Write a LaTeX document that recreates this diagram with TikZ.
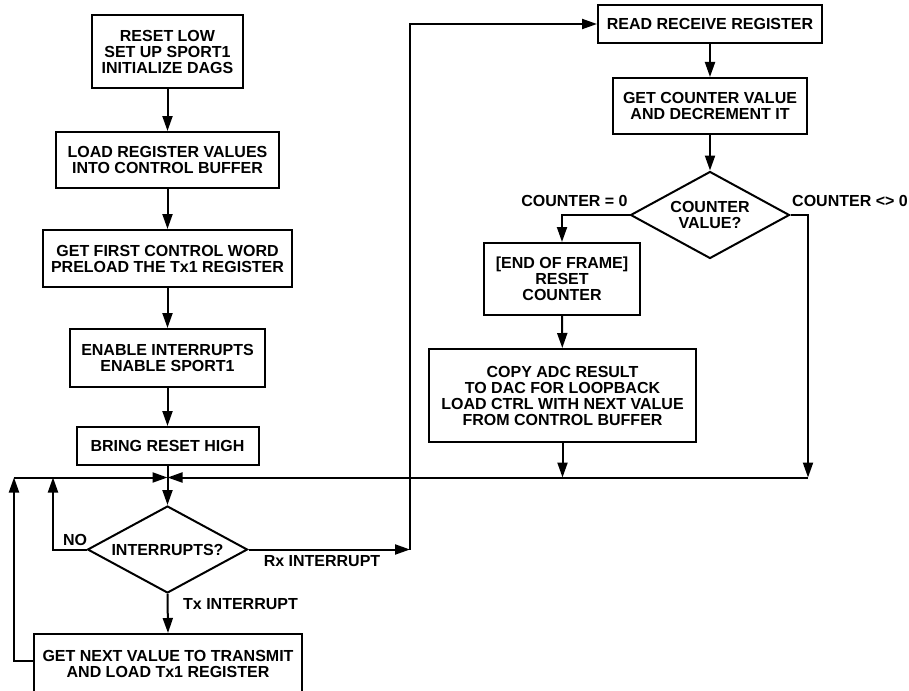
\documentclass[tikz,border=0pt]{standalone}
\usepackage{fontspec}
\setmainfont{Liberation Sans}
\usetikzlibrary{arrows.meta,shapes.geometric}
\tikzset{
  x=1pt,y=-1pt,
  every node/.style={font=\fontsize{16}{16}\selectfont\bfseries},
  arr/.style={line width=2pt,-{Triangle[length=15pt,width=10pt]}},
  box/.style={draw,line width=2pt,inner sep=0pt,align=center},
  dia/.style={draw,line width=2pt,diamond,aspect=1.84,inner sep=0pt,align=center},
  lbl/.style={inner sep=0pt}
}
\begin{document}
\begin{tikzpicture}
\useasboundingbox (0,0) rectangle (909,690);
\clip (0,0) rectangle (909,690);
% left column
\node[box,minimum width=151pt,minimum height=73pt] (b1) at (167.5,51.5) {RESET LOW\\SET UP SPORT1\\INITIALIZE DAGS};
\node[box,minimum width=223pt,minimum height=56pt] (b2) at (167.5,160) {LOAD REGISTER VALUES\\INTO CONTROL BUFFER};
\node[box,minimum width=249pt,minimum height=57pt] (b3) at (167.5,258.5) {GET FIRST CONTROL WORD\\PRELOAD THE Tx1 REGISTER};
\node[box,minimum width=195pt,minimum height=58pt] (b4) at (167.5,358) {ENABLE INTERRUPTS\\ENABLE SPORT1};
\node[box,minimum width=182pt,minimum height=38pt] (b5) at (167.5,446) {BRING RESET HIGH};
\node[dia,minimum width=160pt,minimum height=87pt] (d1) at (167.5,549.5) {INTERRUPTS?};
\node[box,minimum width=268pt,minimum height=60pt] (b6) at (168,664) {GET NEXT VALUE TO TRANSMIT\\AND LOAD Tx1 REGISTER};
% right column
\node[box,minimum width=224pt,minimum height=38pt] (r1) at (710,24) {READ RECEIVE REGISTER};
\node[box,minimum width=194pt,minimum height=56pt] (r2) at (710,106) {GET COUNTER VALUE\\AND DECREMENT IT};
\node[dia,minimum width=159pt,minimum height=87pt] (d2) at (710,215) {COUNTER\\VALUE?};
\node[box,minimum width=156pt,minimum height=72pt] (r3) at (562,279) {[END OF FRAME]\\RESET\\COUNTER};
\node[box,minimum width=267pt,minimum height=93pt] (r4) at (562.5,395.5) {COPY ADC RESULT\\TO DAC FOR LOOPBACK\\LOAD CTRL WITH NEXT VALUE\\FROM CONTROL BUFFER};
% junction points
\coordinate (J) at (167.5,477.5);
\coordinate (L1) at (14,477.5);
\coordinate (L2) at (53,477.5);
\coordinate (R) at (808,477.5);
\coordinate (Rx) at (410,549.5);
\coordinate (M) at (562.5,477.5);
% connectors
\draw[arr] (b1) -- (b2);
\draw[arr] (b2) -- (b3);
\draw[arr] (b3) -- (b4);
\draw[arr] (b4) -- (b5);
\draw[arr] (b5) -- (d1);
\draw[arr] (b6.west |- 0,661) -| (L1);
\draw[arr] (L1) -- (J);
\draw[arr] (d1.west) -| (L2);
\draw[arr] (R) -- (J);
\draw[arr] (d1.east) -- (Rx);
\draw[arr] (Rx) |- (r1.west);
\draw[arr] (d1.south) -- (b6.north);
\draw[arr] (r1) -- (r2);
\draw[arr] (r2) -- (d2);
\draw[arr] (d2.west) -| (r3.north);
\draw[arr] (r3) -- (r4);
\draw[arr] (r4) -- (M);
\draw[arr] (d2.east) -| (R);
% labels
\node[lbl] (no) at (75,540) {NO};
\node[lbl] (rxl) at (322,561.5) {Rx INTERRUPT};
\node[lbl] (txl) at (240.5,604) {Tx INTERRUPT};
\node[lbl] (c0) at (574.5,201) {COUNTER = 0};
\node[lbl] (cn0) at (850,201) {COUNTER <> 0};
\end{tikzpicture}
\end{document}
